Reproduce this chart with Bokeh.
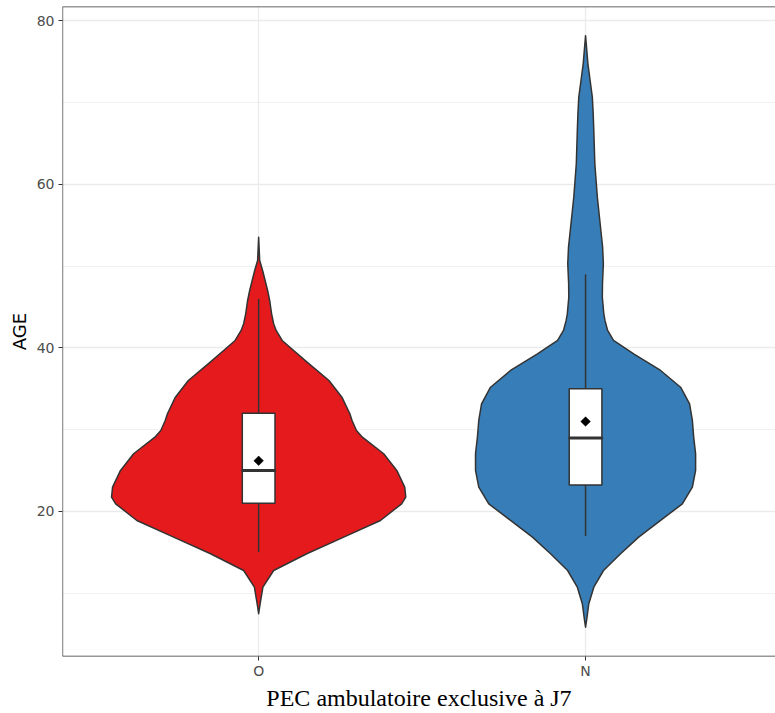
import numpy as np
from bokeh.plotting import figure
from bokeh.models import Range1d, FixedTicker, ColumnDataSource, Span
from bokeh.embed import file_html
from bokeh.resources import INLINE

# ---- data -------------------------------------------------------------
groups = ["O", "N"]
colors = ["#E41A1C", "#377EB8"]

# violin outlines: age grid and relative density (max = 1)
o_age = [7.49, 8.71, 10.74, 12.78, 14.83, 16.86, 18.90, 20.94, 21.75, 22.97,
         25.02, 27.06, 29.09, 29.91, 31.13, 31.95, 33.98, 36.02, 38.27, 39.69,
         40.92, 42.14, 42.96, 44.18, 45.81, 47.03, 48.26, 49.48, 50.70, 53.55]
o_dens = [0.0, 0.010, 0.029, 0.102, 0.327, 0.578, 0.828, 0.972, 1.0, 0.993,
          0.939, 0.850, 0.705, 0.665, 0.635, 0.620, 0.566, 0.478, 0.329, 0.238,
          0.160, 0.119, 0.102, 0.088, 0.075, 0.061, 0.044, 0.027, 0.007, 0.0]

n_age = [5.85, 6.67, 8.71, 10.74, 12.78, 14.83, 16.86, 18.90, 20.94, 22.97,
         25.02, 27.06, 29.09, 31.13, 33.17, 35.20, 37.25, 39.29, 40.92, 42.14,
         43.37, 44.18, 46.21, 47.85, 50.30, 52.33, 54.37, 58.45, 62.53, 66.61,
         68.65, 70.68, 72.72, 74.76, 78.2]
n_dens = [0.0, 0.007, 0.022, 0.056, 0.122, 0.238, 0.361, 0.510, 0.658, 0.726,
          0.748, 0.748, 0.735, 0.726, 0.707, 0.646, 0.510, 0.327, 0.190, 0.150,
          0.132, 0.124, 0.114, 0.115, 0.121, 0.116, 0.104, 0.080, 0.063, 0.056,
          0.052, 0.046, 0.031, 0.016, 0.0]

# boxplot statistics
q1 = [21.0, 23.25]
med = [25.0, 29.0]
q3 = [32.0, 35.0]
whisk_lo = [15.0, 17.0]
whisk_hi = [46.0, 49.0]
means = [26.2, 31.0]

y_ticks = [20, 40, 60, 80]
y_minor = [10, 30, 50, 70]

# ---- figure -----------------------------------------------------------
VIOLIN_HALF = 0.45
BOX_HALF = 0.05
X0, X1 = 0.40, 2.581
Y0, Y1 = 2.26, 81.77

p = figure(width=775, height=713, output_backend="svg", toolbar_location=None,
           x_range=Range1d(X0, X1), y_range=Range1d(Y0, Y1),
           min_border_left=62, min_border_right=0, min_border_top=6,
           min_border_bottom=57)
p.background_fill_color = "white"
p.border_fill_color = "white"
p.outline_line_color = None

xs = [i + 1 for i in range(len(groups))]

profiles = [(o_age, o_dens), (n_age, n_dens)]
for x0, (ages, dens), col in zip(xs, profiles, colors):
    a = np.array(ages)
    d = np.array(dens)
    px = np.concatenate([x0 - VIOLIN_HALF * d, (x0 + VIOLIN_HALF * d)[::-1]])
    py = np.concatenate([a, a[::-1]])
    p.patch(px, py, fill_color=col, line_color="#333333", line_width=1.5,
            line_join="round")

src = ColumnDataSource(dict(x=xs, q1=q1, med=med, q3=q3, lo=whisk_lo,
                            hi=whisk_hi, mean=means))
p.segment(x0="x", y0="q3", x1="x", y1="hi", source=src, line_color="#333333", line_width=1.5)
p.segment(x0="x", y0="q1", x1="x", y1="lo", source=src, line_color="#333333", line_width=1.5)
p.vbar(x="x", width=2 * BOX_HALF, bottom="q1", top="q3", source=src,
       fill_color="white", line_color="#333333", line_width=1.5)
p.rect(x="x", y="med", width=2 * BOX_HALF, height=0.0001, source=src,
       fill_color=None, line_color="#333333", line_width=3)
p.scatter(x="x", y="mean", source=src, marker="square", angle=np.pi / 4,
          size=6.8, fill_color="black", line_color="black", line_width=0.5)

# panel border (the right side is cut off in the original)
for loc, dim in ((X0, "height"), (Y0, "width"), (Y1, "width")):
    p.add_layout(Span(location=loc, dimension=dim, line_color="#333333",
                      line_width=1.3))

# ---- axes -------------------------------------------------------------
p.xaxis.ticker = FixedTicker(ticks=xs)
p.xaxis.major_label_overrides = {x: g for x, g in zip(xs, groups)}
p.yaxis.ticker = FixedTicker(ticks=y_ticks, minor_ticks=y_minor)

for ax in (p.xaxis[0], p.yaxis[0]):
    ax.axis_line_color = None
    ax.major_tick_line_color = "#333333"
    ax.major_tick_line_width = 1
    ax.major_tick_out = 4
    ax.major_tick_in = 0
    ax.minor_tick_out = 0
    ax.minor_tick_in = 0
    ax.major_label_text_color = "#4d4d4d"
    ax.major_label_text_font = "DejaVu Sans"
    ax.major_label_text_font_size = "14px"

p.xaxis.major_label_standoff = 2
p.yaxis.major_label_standoff = 4

p.xaxis.axis_label = "PEC ambulatoire exclusive à J7"
p.xaxis.axis_label_text_font = "Liberation Serif"
p.xaxis.axis_label_text_font_size = "24px"
p.xaxis.axis_label_text_font_style = "normal"
p.xaxis.axis_label_text_color = "black"
p.xaxis.axis_label_standoff = 3

p.yaxis.axis_label = "AGE"
p.yaxis.axis_label_text_font = "DejaVu Sans"
p.yaxis.axis_label_text_font_size = "18px"
p.yaxis.axis_label_text_font_style = "normal"
p.yaxis.axis_label_text_color = "black"
p.yaxis.axis_label_standoff = 4

p.xgrid.grid_line_color = "#ebebeb"
p.xgrid.grid_line_width = 1.3
p.ygrid.grid_line_color = "#ebebeb"
p.ygrid.grid_line_width = 1.3
p.ygrid.minor_grid_line_color = "#ebebeb"
p.ygrid.minor_grid_line_width = 0.7

open("out.html", "w").write(file_html(p, INLINE))
